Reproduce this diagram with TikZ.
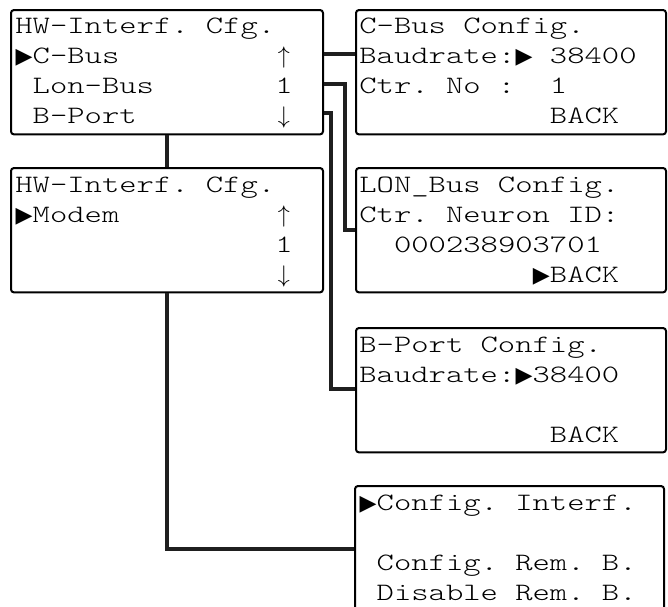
\documentclass[tikz,border=0pt]{standalone}
\usepackage{amsmath,amssymb}
\usepackage{fontspec}
\setmonofont{lmmonolt10-regular.otf}[FakeStretch=1.32]
\newfontfamily\symfont{DejaVu Sans}
\usetikzlibrary{calc}
\newsavebox\cellbox
\newcommand\cell[1]{\sbox\cellbox{0}\makebox[\wd\cellbox]{#1}}
\newcommand\pad[1]{\sbox\cellbox{0}\hspace*{#1\wd\cellbox}}
\newcommand\selmark{\cell{\symfont\fontsize{11}{11}\selectfont ▶}}
\newcommand\uparr{\cell{$\uparrow$}}
\newcommand\dnarr{\cell{$\downarrow$}}

\begin{document}
\begin{tikzpicture}[x=0.5pt,y=-0.5pt]
  \tikzset{
    lcd/.style={draw, line width=1pt, rounded corners=1.5pt, anchor=north west, inner sep=0pt,
      minimum width=155pt, minimum height=62.2pt},
    rows/.style={anchor=north west, inner sep=0pt, align=left,
      font=\ttfamily\fontsize{12.5}{15}\selectfont\frenchspacing},
    link/.style={line width=2.3pt, draw=black!88}
  }
  \useasboundingbox (0,0) rectangle (668,606);
  \clip (0,0) rectangle (668,606);

  % displays
  \node[lcd, minimum width=156pt] (a) at (10,9) {};
  \node[lcd] (b) at (355,9) {};
  \node[lcd, minimum width=156pt] (c) at (10,167) {};
  \node[lcd] (d) at (355,167) {};
  \node[lcd] (e) at (355,327) {};
  \node[lcd, minimum width=154.5pt, minimum height=63pt] (f) at (354,485) {};

  % display texts
  \node[rows] (atext) at ($(a.north west)+(5,9)$)
    {HW-Interf. Cfg.\\ \selmark C-Bus\pad{9}\uparr\\ \pad{1}Lon-Bus\pad{7}1\\ \pad{1}B-Port\pad{8}\dnarr};
  \node[rows] (btext) at ($(b.north west)+(4,9)$)
    {C-Bus Config.\\ Baudrate:\selmark\pad{1}38400\\ Ctr.~No~:\pad{2}1\\ \pad{11}BACK};
  \node[rows] (ctext) at ($(c.north west)+(5,10)$)
    {HW-Interf. Cfg.\\ \selmark Modem\pad{9}\uparr\\ \pad{15}1\\ \pad{15}\dnarr};
  \node[rows] (dtext) at ($(d.north west)+(4,10)$)
    {LON\_Bus Config.\\ Ctr. Neuron ID:\\ \pad{2}000238903701\\ \pad{10}\selmark BACK};
  \node[rows] (etext) at ($(e.north west)+(4,10)$)
    {B-Port Config.\\ Baudrate:\selmark 38400\\ \mbox{}\\ \pad{11}BACK};
  \node[rows] (ftext) at ($(f.north west)+(5,10)$)
    {\selmark Config. Interf.\\ \mbox{}\\ \pad{1}Config. Rem. B.\\ \pad{1}Disable Rem. B.};

  % connections
  \coordinate (lonturn) at ($(d.north west)+(-10,63)$);
  \coordinate (portturn) at ($(e.north west)+(-24,62)$);
  \draw[link] ($(a.north east)+(0,45)$) -- ($(b.north west)+(0,45)$);
  \draw[link] ($(a.north east)+(0,75)$) -| (lonturn) -- (d.west |- lonturn);
  \draw[link] ($(a.north east)+(0,104)$) -| (portturn) -- (e.west |- portturn);
  \draw[link] (a.south) -- (c.north);
  \draw[link] (c.south) |- (f.west);
\end{tikzpicture}
\end{document}
